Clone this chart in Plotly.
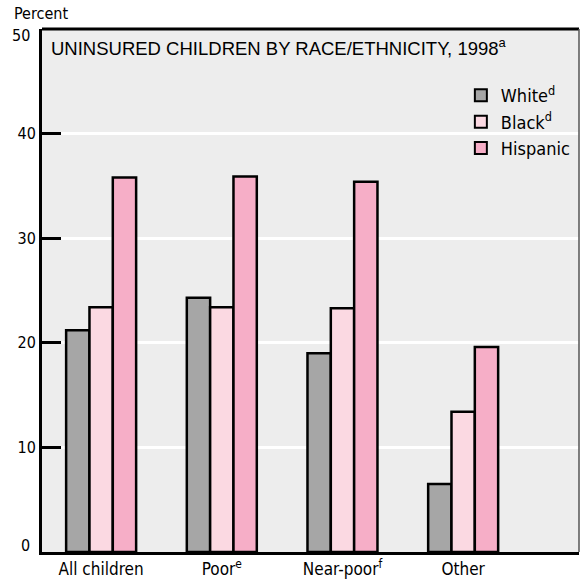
import plotly.graph_objects as go

# Uninsured children by race/ethnicity and poverty status, 1998 (percent)
categories = ["All children", "Poor<sup>e</sup>", "Near-poor<sup>f</sup>", "Other"]
series_names = ["White<sup>d</sup>", "Black<sup>d</sup>", "Hispanic"]
white = [21.2, 24.3, 19.0, 6.5]
black = [23.4, 23.4, 23.3, 13.4]
hispanic = [35.8, 35.9, 35.4, 19.6]
y_ticks = [0, 10, 20, 30, 40, 50]

colors = ["#a6a6a6", "#fbd9e2", "#f6aec7"]
COND = "DejaVu Sans Condensed, Liberation Sans Narrow, Roboto Condensed, Roboto, sans-serif"
REG = "Liberation Sans, Arial, sans-serif"

x_pos = list(range(len(categories)))

fig = go.Figure()
for name, vals, col in zip(series_names, [white, black, hispanic], colors):
    fig.add_trace(go.Bar(
        x=x_pos, y=vals, name=name,
        marker=dict(color=col, line=dict(color="black", width=2.5)),
    ))

fig.update_layout(
    width=581, height=584,
    margin=dict(l=42, r=2, t=29, b=32),
    paper_bgcolor="white",
    plot_bgcolor="#ededed",
    barmode="group",
    bargap=0.42,
    bargroupgap=0,
    showlegend=True,
    legend=dict(
        x=0.78, y=0.908, xanchor="left", yanchor="top",
        bgcolor="rgba(0,0,0,0)",
        font=dict(family=COND, size=18, color="black"),
        itemsizing="constant",
    ),
    xaxis=dict(
        range=[-0.49, 3.96],
        tickvals=x_pos, ticktext=categories,
        tickfont=dict(family=COND, size=17, color="black"),
        showgrid=False, zeroline=False,
        showline=True, linecolor="black", linewidth=3,
        ticks="", fixedrange=True,
    ),
    yaxis=dict(
        range=[0, 50],
        tickvals=y_ticks,
        ticktext=["", "10", "20", "30", "40", ""],
        tickfont=dict(family=COND, size=16, color="black"),
        ticks="inside", ticklen=19, tickwidth=3, tickcolor="black",
        showgrid=True, gridcolor="white", gridwidth=3,
        zeroline=False,
        showline=True, linecolor="black", linewidth=3,
        fixedrange=True,
    ),
    shapes=[
        # top edge of the frame
        dict(type="line", xref="paper", yref="paper", x0=0, x1=1, y0=1, y1=1,
             line=dict(color="black", width=3)),
        # right edge of the frame
        dict(type="line", xref="paper", yref="paper", x0=1, x1=1, y0=0, y1=1,
             line=dict(color="#555555", width=1.5)),
    ],
    annotations=[
        dict(text="Percent", xref="paper", yref="paper", x=-0.055, y=1.029,
             xanchor="left", yanchor="middle", showarrow=False,
             font=dict(family=COND, size=16, color="black")),
        dict(text="50", xref="paper", yref="y", x=0, y=50, xanchor="right",
             xshift=-10, yshift=-6, showarrow=False,
             font=dict(family=COND, size=16, color="black")),
        dict(text="0", xref="paper", yref="y", x=0, y=0, xanchor="right",
             xshift=-10, yshift=7, showarrow=False,
             font=dict(family=COND, size=16, color="black")),
        dict(text="UNINSURED CHILDREN BY RACE/ETHNICITY, 1998<sup>a</sup>",
             xref="paper", yref="paper", x=0.013, y=0.993,
             xanchor="left", yanchor="top", showarrow=False,
             font=dict(family=REG, size=18.5, color="black")),
    ],
)

fig.write_html("out.html")
